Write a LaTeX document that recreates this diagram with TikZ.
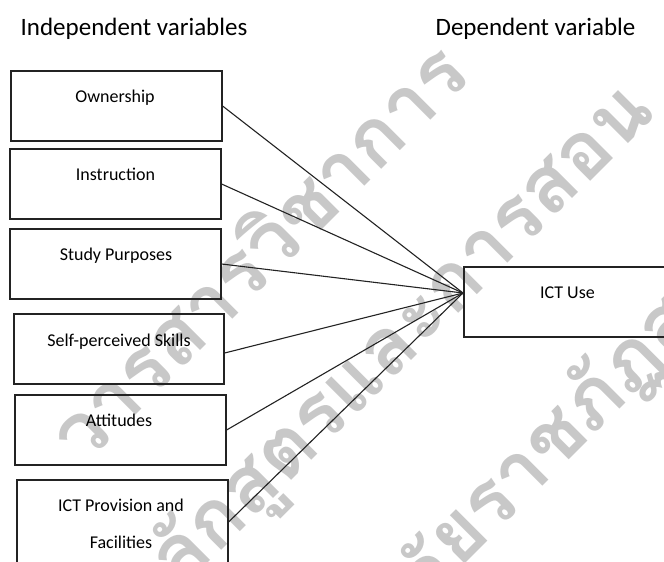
\documentclass[tikz,border=0pt]{standalone}
\usepackage{fontspec}
\setmainfont{Carlito}
\newfontfamily\thaifont[Script=Thai]{Loma}
\definecolor{wmgray}{RGB}{200,200,200}
\definecolor{ink}{RGB}{35,35,35}
\begin{document}
\begin{tikzpicture}[x=1pt,y=-1pt,
  box/.style={draw=ink, line width=1.2pt, minimum width=211pt, minimum height=70pt, inner sep=0pt},
  lbl/.style={font=\fontsize{18}{20}\selectfont, anchor=base, inner sep=0pt},
  ttl/.style={font=\fontsize{25}{28}\selectfont, anchor=base, inner sep=0pt},
  wm/.style={font=\thaifont\bfseries\fontsize{80}{90}\selectfont, text=wmgray, rotate=45, inner sep=0pt},
  link/.style={draw=ink, line width=1.1pt}]
\useasboundingbox (0,0) rectangle (664,562);
\fill[white] (0,0) rectangle (664,562);
\clip (0,0) rectangle (664,562);
% watermark
\node[wm] (wm1) at (255,250) {วารสารวิชาการ};
\node[wm] (wm2) at (385,355) {หลักสูตรและการสอน};
\node[wm, anchor=west] (wm3b) at (442,553) {ยราชภัฏสกลนคร};
\node[wm, anchor=east] (wm3a) at (442,553) {มหาวิทยาลั};
% titles
\node[ttl] (tind) at (134,35) {Independent variables};
\node[ttl] (tdep) at (535.5,35) {Dependent variable};
% boxes
\node[box] (own) at (116.5,106) {};
\node[box] (ins) at (115.5,184) {};
\node[box] (stu) at (115.5,264) {};
\node[box, minimum width=210pt] (sel) at (119,349) {};
\node[box] (att) at (120.5,430) {};
\node[box, minimum height=84pt] (ict) at (122.5,522) {};
\node[box, minimum width=204pt] (use) at (566,302) {};
% labels
\node[lbl] (ownT) at (115,102.5) {Ownership};
\node[lbl] (insT) at (115.5,180) {Instruction};
\node[lbl] (stuT) at (116,260.5) {Study Purposes};
\node[lbl] (selT) at (119,346) {Self-perceived Skills};
\node[lbl] (attT) at (119,426) {Attitudes};
\node[lbl] (ictT1) at (121,511) {ICT Provision and};
\node[lbl] (ictT2) at (121,548) {Facilities};
\node[lbl] (useT) at (567.5,298) {ICT Use};
% connectors
\coordinate (hub) at (463,293);
\draw[link] (own.east) -- (hub);
\draw[link] (ins.east) -- (hub);
\draw[link] (stu.east) -- (hub);
\draw[link] ([yshift=-4pt]sel.east) -- (hub);
\draw[link] (att.east) -- (hub);
\draw[link] (ict.east) -- (hub);
\end{tikzpicture}
\end{document}
